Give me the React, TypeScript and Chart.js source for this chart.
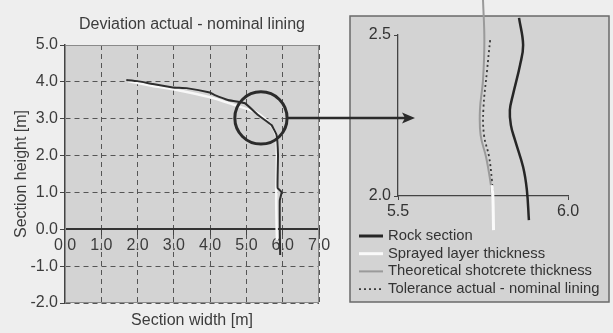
import React, { useEffect, useRef } from "react";
import { Chart, registerables } from "chart.js";

Chart.register(...registerables);

const FONT = "'Liberation Sans', Arial, sans-serif";
const TEXT = "#3c3c3c";
const PAGE_BG = "#eeeeee";
const PLOT_BG = "#d3d3d3";

// ---------- Left chart: full section ----------
const leftTitle = "Deviation actual - nominal lining";
const leftXTitle = "Section width [m]";
const leftYTitle = "Section height [m]";
const leftXTicks = [0, 1, 2, 3, 4, 5, 6, 7];
const leftYTicks = [-2, -1, 0, 1, 2, 3, 4, 5];

const rockX = [1.69, 2.0, 2.42, 2.97, 3.35, 3.99, 4.13, 4.49, 4.96, 5.32, 5.69, 5.83, 5.87, 5.86, 5.86, 5.97, 5.92, 5.92, 5.93];
const rockY = [4.05, 4.02, 3.94, 3.85, 3.83, 3.71, 3.64, 3.51, 3.42, 3.1, 2.83, 2.56, 2.02, 1.47, 1.12, 1.01, 0.79, -0.02, -0.7];
const sprayX = [1.73, 2.42, 2.98, 4.01, 4.68, 5.23, 5.5, 5.74, 5.83, 5.84, 5.82, 5.84];
const sprayY = [4.02, 3.89, 3.8, 3.58, 3.37, 3.19, 3.01, 2.74, 2.47, 1.88, 0.79, -0.29];

// zoom circle (data units of the left chart)
const zoomCenterX = 5.4;
const zoomCenterY = 3.02;
const zoomRadiusX = 0.72;

// ---------- Right chart: detail ----------
const detailXTicks = [5.5, 6.0];
const detailYTicks = [2.0, 2.5];
const detailRockX = [5.856, 5.868, 5.859, 5.838, 5.829, 5.832, 5.844, 5.868, 5.879, 5.885];
const detailRockY = [2.553, 2.469, 2.407, 2.314, 2.267, 2.22, 2.174, 2.09, 2.019, 1.925];
const detailSprayX = [5.776, 5.779, 5.781];
const detailSprayY = [2.034, 2.0, 1.894];
const detailTheoX = [5.75, 5.754, 5.75, 5.741, 5.743, 5.759, 5.771, 5.777];
const detailTheoY = [2.609, 2.484, 2.36, 2.267, 2.189, 2.121, 2.05, 2.0];
const detailTolX = [5.771, 5.762, 5.751, 5.753, 5.768, 5.776, 5.779];
const detailTolY = [2.484, 2.391, 2.267, 2.189, 2.121, 2.05, 2.0];
const arrowTipX = 5.55;

const legendLabels = [
  "Rock section",
  "Sprayed layer thickness",
  "Theoretical shotcrete thickness",
  "Tolerance actual - nominal lining",
];

const pts = (xs: number[], ys: number[]) => xs.map((x, i) => ({ x, y: ys[i] }));
const fmt = (v: any) => Number(v).toFixed(1);

export default function App() {
  const leftRef = useRef<HTMLCanvasElement>(null);
  const rightRef = useRef<HTMLCanvasElement>(null);

  useEffect(() => {
    const leftDeco = {
      id: "leftDeco",
      beforeDraw(chart: any) {
        const { ctx, chartArea: a } = chart;
        ctx.save();
        ctx.fillStyle = PLOT_BG;
        ctx.fillRect(a.left, a.top, a.right - a.left, a.bottom - a.top);
        ctx.restore();
      },
      beforeDatasetsDraw(chart: any) {
        const { ctx, chartArea: a } = chart;
        ctx.save();
        ctx.strokeStyle = "#8a8a8a";
        ctx.lineWidth = 1;
        ctx.strokeRect(a.left + 0.5, a.top + 0.5, a.right - a.left - 1, a.bottom - a.top - 1);
        ctx.restore();
      },
      afterDatasetsDraw(chart: any) {
        const { ctx, scales } = chart;
        const cx = scales.x.getPixelForValue(zoomCenterX);
        const cy = scales.y.getPixelForValue(zoomCenterY);
        const r = scales.x.getPixelForValue(zoomCenterX + zoomRadiusX) - cx;
        ctx.save();
        ctx.beginPath();
        ctx.arc(cx, cy, r, 0, Math.PI * 2);
        ctx.lineWidth = 3;
        ctx.strokeStyle = "#2b2b2b";
        ctx.stroke();
        ctx.restore();
      },
      afterDraw(chart: any) {
        const { ctx, chartArea: a } = chart;
        const mid = (a.left + a.right) / 2;
        ctx.save();
        ctx.font = `16px ${FONT}`;
        ctx.fillStyle = TEXT;
        ctx.textAlign = "center";
        ctx.textBaseline = "middle";
        ctx.fillText(leftTitle, mid, a.top - 20);
        ctx.fillText(leftXTitle, mid, a.bottom + 18);
        ctx.restore();
      },
    };

    const left = new Chart(leftRef.current!, {
      type: "scatter",
      data: {
        datasets: [
          {
            label: legendLabels[0],
            data: pts(rockX, rockY),
            showLine: true,
            borderColor: "#2e2e2e",
            borderWidth: 2,
            pointRadius: 0,
            tension: 0.1,
          },
          {
            label: legendLabels[1],
            data: pts(sprayX, sprayY),
            showLine: true,
            borderColor: "#f8f8f8",
            borderWidth: 2.5,
            pointRadius: 0,
            tension: 0.2,
          },
        ],
      },
      options: {
        animation: false,
        responsive: false,
        layout: { padding: { left: 0, top: 45, right: 294, bottom: 30 } },
        plugins: {
          legend: { display: false },
          tooltip: { enabled: false },
          title: { display: false },
        },
        scales: {
          x: {
            type: "linear",
            min: 0,
            max: 7,
            position: { y: 0 } as any,
            afterBuildTicks: (s: any) => {
              s.ticks = leftXTicks.map((v) => ({ value: v }));
            },
            ticks: {
              callback: fmt,
              color: TEXT,
              font: { family: FONT, size: 16 },
              maxRotation: 0,
              autoSkip: false,
              padding: 2,
            },
            grid: { color: "#555", lineWidth: 1, drawTicks: true, tickLength: 5, tickColor: "#444" },
            border: { display: true, color: "#333", width: 2, dash: [5, 4] },
          },
          y: {
            type: "linear",
            min: -2,
            max: 5,
            afterBuildTicks: (s: any) => {
              s.ticks = leftYTicks.map((v) => ({ value: v }));
            },
            afterFit: (s: any) => {
              s.width = 65;
            },
            ticks: {
              callback: fmt,
              color: TEXT,
              font: { family: FONT, size: 16 },
              padding: 2,
            },
            grid: { color: "#555", lineWidth: 1, drawTicks: true, tickLength: 5, tickColor: "#444" },
            border: { display: true, color: "#444", width: 1.5, dash: [5, 4] },
            title: {
              display: true,
              text: leftYTitle,
              color: TEXT,
              font: { family: FONT, size: 16 },
              padding: { top: 12.4, bottom: 0 },
            },
          },
        },
      },
      plugins: [leftDeco],
    } as any);

    const rightDeco = {
      id: "rightDeco",
      beforeDraw(chart: any) {
        const { ctx, chartArea: a } = chart;
        const bx = a.left - 48, by = a.top - 19, bw = a.right + 41 - bx, bh = a.bottom + 106 - by;
        ctx.save();
        ctx.fillStyle = PLOT_BG;
        ctx.fillRect(bx, by, bw, bh);
        ctx.strokeStyle = "#6a6a6a";
        ctx.lineWidth = 1.5;
        ctx.strokeRect(bx, by, bw, bh);
        ctx.restore();
      },
      afterDraw(chart: any) {
        const { ctx, chartArea: a, scales } = chart;
        // legend
        const ds = chart.data.datasets;
        ctx.save();
        ctx.font = `14.8px ${FONT}`;
        ctx.textBaseline = "middle";
        ctx.textAlign = "left";
        for (let i = 0; i < ds.length; i++) {
          const y = a.bottom + 40 + i * 17.7;
          const x0 = a.left - 39;
          ctx.beginPath();
          ctx.setLineDash(ds[i].borderDash || []);
          ctx.strokeStyle = ds[i].borderColor;
          ctx.lineWidth = i === 0 ? 3 : ds[i].borderWidth;
          ctx.moveTo(x0, y);
          ctx.lineTo(x0 + 24, y);
          ctx.stroke();
          ctx.setLineDash([]);
          ctx.fillStyle = "#333";
          ctx.fillText(ds[i].label, a.left - 10, y);
        }
        // arrow from zoom circle
        const ls = left.scales as any;
        const cx = ls.x.getPixelForValue(zoomCenterX);
        const cy = ls.y.getPixelForValue(zoomCenterY);
        const r = ls.x.getPixelForValue(zoomCenterX + zoomRadiusX) - cx;
        const tip = scales.x.getPixelForValue(arrowTipX);
        ctx.strokeStyle = "#2b2b2b";
        ctx.fillStyle = "#2b2b2b";
        ctx.lineWidth = 2.5;
        ctx.beginPath();
        ctx.moveTo(cx + r, cy);
        ctx.lineTo(tip - 8, cy);
        ctx.stroke();
        ctx.beginPath();
        ctx.moveTo(tip, cy);
        ctx.lineTo(tip - 13, cy - 5.5);
        ctx.lineTo(tip - 10, cy);
        ctx.lineTo(tip - 13, cy + 5.5);
        ctx.closePath();
        ctx.fill();
        ctx.restore();
      },
    };

    const right = new Chart(rightRef.current!, {
      type: "scatter",
      data: {
        datasets: [
          {
            label: legendLabels[0],
            data: pts(detailRockX, detailRockY),
            showLine: true,
            borderColor: "#262626",
            borderWidth: 2.5,
            pointRadius: 0,
            tension: 0.4,
            clip: false,
          },
          {
            label: legendLabels[1],
            data: pts(detailSprayX, detailSprayY),
            showLine: true,
            borderColor: "#fafafa",
            borderWidth: 3,
            pointRadius: 0,
            tension: 0.3,
            clip: false,
          },
          {
            label: legendLabels[2],
            data: pts(detailTheoX, detailTheoY),
            showLine: true,
            borderColor: "#9a9a9a",
            borderWidth: 2,
            pointRadius: 0,
            tension: 0.4,
            clip: false,
          },
          {
            label: legendLabels[3],
            data: pts(detailTolX, detailTolY),
            showLine: true,
            borderColor: "#3a3a3a",
            borderWidth: 1.8,
            borderDash: [2, 3],
            pointRadius: 0,
            tension: 0.4,
            clip: false,
          },
        ],
      },
      options: {
        animation: false,
        responsive: false,
        layout: { padding: { left: 0, top: 35, right: 45, bottom: 0 } },
        plugins: { legend: { display: false }, tooltip: { enabled: false }, title: { display: false } },
        scales: {
          x: {
            type: "linear",
            min: 5.5,
            max: 6.0,
            afterBuildTicks: (s: any) => {
              s.ticks = detailXTicks.map((v) => ({ value: v }));
            },
            afterFit: (s: any) => {
              s.height = 137;
            },
            ticks: { callback: fmt, color: "#333", font: { family: FONT, size: 16 }, maxRotation: 0, autoSkip: false, padding: 2 },
            grid: { drawOnChartArea: false, drawTicks: true, tickLength: 4, tickColor: "#444", color: "#444" },
            border: { display: true, color: "#444", width: 1.3 },
          },
          y: {
            type: "linear",
            min: 2.0,
            max: 2.5,
            afterBuildTicks: (s: any) => {
              s.ticks = detailYTicks.map((v) => ({ value: v }));
            },
            afterFit: (s: any) => {
              s.width = 398;
            },
            ticks: { callback: fmt, color: "#333", font: { family: FONT, size: 16 }, padding: 3 },
            grid: { drawOnChartArea: false, drawTicks: true, tickLength: 4, tickColor: "#444", color: "#444" },
            border: { display: true, color: "#444", width: 1.3 },
          },
        },
      },
      plugins: [rightDeco],
    } as any);

    return () => {
      right.destroy();
      left.destroy();
    };
  }, []);

  return (
    <div style={{ position: "fixed", left: 0, top: 0, width: 613, height: 333, background: PAGE_BG }}>
      <canvas ref={leftRef} width={613} height={333} style={{ position: "absolute", left: 0, top: 0 }} />
      <canvas ref={rightRef} width={613} height={333} style={{ position: "absolute", left: 0, top: 0 }} />
    </div>
  );
}
